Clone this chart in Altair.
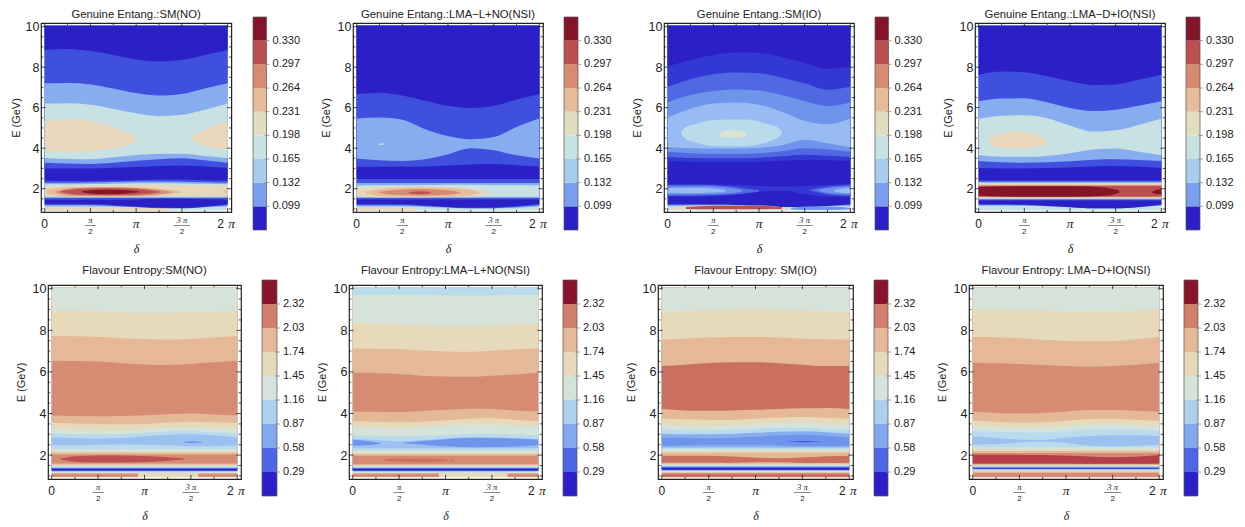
import altair as alt
import pandas as pd

KNOTS = [0, .25, .5, .75, 1, 1.25, 1.5, 1.75, 2]
E_LOW, E_HIGH = 0.93, 10.05
X_DOMAIN = [-0.04, 2.04]
Y_DOMAIN = [0.85, 10.18]

COL = {'D': '#2B20C5', 'C': '#3337D3', 'B': '#3E50DD', 'B2': '#5069E2', 'M2': '#6F94EB', 'M': '#87ADF0',
       'N': '#9CC0F0', 'M3': '#97BBF2', 'LB': '#BADBEC', 'W': '#DDE3CF', 'L': '#C8E2E3', 'T': '#E8D7BA',
       'P': '#E6BC9A', 'S': '#D68B70', 'R': '#BC5050', 'K': '#861428', 'A': '#D6E3DB', 'T2': '#E6DABA',
       'P2': '#E5B898', 'S2': '#D68C72', 'S3': '#C97060', 'R2': '#B43F48'}

BAR_G = ['#2B20C8', '#7A9FEF', '#A8CCEE', '#C8E2E2', '#E3DDBF', '#E6BC9A', '#D68B70', '#BC5050', '#861428']
BAR_F = ['#2B20C8', '#4D66E5', '#82A8F0', '#ADD0EC', '#D6E3DB', '#E6DABA', '#E5B898', '#D27F6C', '#87142B']
LEVELS_G = [0.099, 0.132, 0.165, 0.198, 0.231, 0.264, 0.297, 0.330]
LEVELS_F = [0.29, 0.58, 0.87, 1.16, 1.45, 1.74, 2.03, 2.32]

TITLES_G = ['Genuine Entang.:SM(NO)', 'Genuine Entang.:LMA\u2212L+NO(NSI)', 'Genuine Entang.:SM(IO)', 'Genuine Entang.:LMA\u2212D+IO(NSI)']
TITLES_F = ['Flavour Entropy:SM(NO)', 'Flavour Entropy:LMA\u2212L+NO(NSI)', 'Flavour Entropy: SM(IO)', 'Flavour Entropy: LMA\u2212D+IO(NSI)']

# each curve: colour of the band above it, lower edge of that band at KNOTS (or one value)
G1_CURVES = [
    ('L', E_LOW), ('M', [1.12, 1.12, 1.12, 1.12, 1.08, 1.05, 1.05, 1.08, 1.12]),
    ('B', [1.19, 1.19, 1.19, 1.15, 1.1, 1.03, 1.03, 1.1, 1.18]),
    ('D', [1.26, 1.26, 1.24, 1.2, 1.12, 1.07, 1.05, 1.12, 1.25]),
    ('B', [1.46, 1.46, 1.46, 1.46, 1.47, 1.5, 1.5, 1.48, 1.46]), ('M', 1.54), ('L', 1.6), ('T', 1.63),
    ('L', [2.14, 2.14, 2.15, 2.17, 2.2, 2.2, 2.18, 2.16, 2.14]), ('M', [2.22, 2.22, 2.23, 2.25, 2.27, 2.27, 2.26, 2.24, 2.22]),
    ('B', [2.3, 2.3, 2.31, 2.33, 2.35, 2.35, 2.34, 2.32, 2.3]), ('D', [2.4, 2.38, 2.38, 2.4, 2.42, 2.45, 2.45, 2.42, 2.4]),
    ('B', [3.0, 3.0, 3.0, 3.03, 3.07, 3.12, 3.15, 3.1, 3.02]), ('M', [3.28, 3.24, 3.22, 3.28, 3.38, 3.45, 3.5, 3.4, 3.28]),
    ('L', [3.52, 3.47, 3.46, 3.55, 3.67, 3.73, 3.72, 3.62, 3.52]), ('M', [6.2, 6.22, 6.15, 5.95, 5.72, 5.58, 5.65, 5.9, 6.2]),
    ('B', [7.2, 7.22, 7.15, 6.95, 6.72, 6.6, 6.68, 6.95, 7.2]), ('D', [8.85, 8.9, 8.8, 8.6, 8.38, 8.28, 8.35, 8.6, 8.85]),
]
G1_ISLANDS = [
    ('T', [0, .25, .5, .75, .9, .98, 1.0], [3.85, 3.82, 3.85, 3.98, 4.15, 4.3, 4.4], [5.32, 5.42, 5.35, 5.05, 4.75, 4.55, 4.45]),
    ('T', [1.6, 1.62, 1.7, 1.85, 2], [4.45, 4.35, 4.2, 4.0, 3.88], [4.5, 4.6, 4.8, 5.12, 5.32]),
    ('P', [.02, .2, .5, .8, 1.1, 1.35, 1.5], [1.75, 1.62, 1.6, 1.6, 1.63, 1.72, 1.82], [1.95, 2.06, 2.1, 2.1, 2.05, 1.95, 1.86]),
    ('S', [.12, .3, .6, .9, 1.15, 1.4], [1.82, 1.66, 1.64, 1.64, 1.68, 1.82], [1.86, 2.02, 2.06, 2.05, 1.98, 1.84]),
    ('R', [.18, .4, .7, 1.0, 1.26], [1.83, 1.7, 1.68, 1.7, 1.82], [1.87, 2.0, 2.03, 2.0, 1.85]),
    ('K', [.41, .6, .8, 1.03], [1.83, 1.74, 1.74, 1.82], [1.87, 1.95, 1.95, 1.86]),
    ('P', [1.96, 1.98, 2], [1.85, 1.78, 1.76], [1.87, 1.93, 1.95]),
    ('T', [0, .5, 1, 1.4], [E_LOW, E_LOW, E_LOW, E_LOW], [1.1, 1.1, 1.07, .97]),
]
G2_CURVES = [
    ('L', E_LOW), ('M', [1.12, 1.12, 1.12, 1.1, 1.06, 1.03, 1.04, 1.06, 1.12]), ('B', [1.18, 1.18, 1.18, 1.14, 1.08, 1.03, 1.04, 1.1, 1.18]),
    ('D', [1.25, 1.25, 1.23, 1.18, 1.1, 1.07, 1.08, 1.15, 1.25]), ('B', 1.47), ('M', 1.54), ('L', 1.6),
    ('M', [2.16, 2.17, 2.17, 2.18, 2.2, 2.2, 2.18, 2.17, 2.16]), ('B', 2.28), ('D', 2.48),
    ('B', [3.08, 3.08, 3.08, 3.1, 3.14, 3.2, 3.22, 3.16, 3.08]), ('M', [3.49, 3.4, 3.37, 3.45, 3.7, 4.0, 3.9, 3.65, 3.49]),
    ('B', [5.47, 5.51, 5.4, 4.94, 4.6, 4.44, 4.55, 5.05, 5.47]), ('D', [6.68, 6.74, 6.6, 6.34, 6.09, 5.98, 6.09, 6.4, 6.68]),
]
G2_ISLANDS = [
    ('T', [0, .25, .5, .8, 1.1, 1.35, 1.45], [1.62, 1.58, 1.58, 1.58, 1.6, 1.68, 1.78], [2.02, 2.08, 2.1, 2.1, 2.06, 1.92, 1.82]),
    ('P', [.1, .3, .6, .95, 1.2, 1.35], [1.78, 1.63, 1.6, 1.6, 1.65, 1.78], [1.86, 2.0, 2.06, 2.05, 1.98, 1.82]),
    ('S', [.24, .4, .7, 1.0, 1.13], [1.8, 1.7, 1.66, 1.7, 1.78], [1.84, 1.92, 1.98, 1.92, 1.82]),
    ('R', [.57, .7, .81], [1.78, 1.73, 1.78], [1.82, 1.87, 1.82]),
    ('L', [.24, .27, .31], [4.2, 4.16, 4.2], [4.22, 4.25, 4.22]),
    ('T', [0, .3, .65], [E_LOW, E_LOW, E_LOW], [1.08, 1.08, 1.0]),
]
G3_CURVES = [
    ('L', E_LOW), ('M3', 1.14), ('M2', 1.17), ('D', [1.22, 1.22, 1.22, 1.2, 1.12, 1.1, 1.1, 1.15, 1.22]),
    ('C', [1.6, 1.6, 1.62, 1.7, 1.85, 1.9, 1.75, 1.6, 1.6]), ('D', [2.25, 2.25, 2.22, 2.18, 2.13, 2.1, 2.13, 2.18, 2.25]),
    ('C', [3.37, 3.33, 3.3, 3.3, 3.33, 3.38, 3.42, 3.4, 3.37]), ('B2', [3.57, 3.52, 3.5, 3.5, 3.53, 3.6, 3.68, 3.63, 3.57]),
    ('M2', [3.82, 3.75, 3.72, 3.72, 3.75, 3.85, 4.0, 3.95, 3.82]), ('M3', [4.05, 4.0, 3.98, 3.98, 4.02, 4.15, 4.42, 4.25, 4.05]),
    ('M2', [5.51, 5.95, 6.2, 6.26, 6.15, 5.8, 5.35, 5.18, 5.48]), ('B2', [6.26, 6.62, 6.82, 6.9, 6.85, 6.62, 6.32, 6.08, 6.26]),
    ('C', [7.03, 7.4, 7.65, 7.74, 7.7, 7.48, 7.2, 6.88, 7.03]), ('D', [8.03, 8.35, 8.6, 8.72, 8.7, 8.5, 8.2, 7.92, 8.03]),
]
G3_ISLANDS = [
    ('LB', [.15, .18, .3, .55, .85, 1.1, 1.22, 1.25], [4.72, 4.52, 4.28, 4.1, 4.1, 4.32, 4.55, 4.72], [4.78, 4.98, 5.2, 5.4, 5.42, 5.18, 4.98, 4.8]),
    ('W', [.57, .6, .7, .82, .86], [4.62, 4.55, 4.52, 4.55, 4.65], [4.72, 4.82, 4.88, 4.82, 4.72]),
    ('B2', [0, .4, .8, 1.0], [1.65, 1.67, 1.75, 1.85], [2.18, 2.18, 2.05, 1.92]),
    ('M2', [0, .4, .7, .82], [1.72, 1.73, 1.78, 1.88], [2.12, 2.12, 2.03, 1.92]),
    ('M3', [0, .3, .55, .64], [1.8, 1.78, 1.82, 1.88], [2.03, 2.05, 1.98, 1.92]),
    ('B2', [1.55, 1.75, 2], [1.92, 1.72, 1.65], [1.95, 2.1, 2.18]),
    ('M2', [1.64, 1.8, 2], [1.9, 1.76, 1.72], [1.94, 2.06, 2.12]),
    ('M3', [1.82, 1.9, 2], [1.88, 1.8, 1.78], [1.92, 2.0, 2.05]),
    ('T', [.05, .3, 1.0, 1.3], [.98, .98, .98, .98], [1.05, 1.17, 1.17, 1.05]),
    ('R', [.2, .5, 1, 1.25], [1.0, .99, .99, 1.0], [1.1, 1.16, 1.16, 1.1]),
    ('M2', [1.35, 1.5, 1.8, 2], [.98, .95, .95, .98], [1.06, 1.12, 1.12, 1.06]),
]
G4_CURVES = [
    ('L', E_LOW), ('M', 1.16), ('B', [1.2, 1.2, 1.18, 1.14, 1.08, 1.03, 1.03, 1.08, 1.2]), ('D', [1.25, 1.25, 1.22, 1.16, 1.1, 1.03, 1.03, 1.1, 1.22]),
    ('B', 1.42), ('M', 1.47), ('L', 1.5), ('T', 1.54), ('P', 1.57), ('S', 1.59), ('R', 1.62),
    ('S', 2.13), ('P', 2.17), ('T', 2.2), ('L', 2.26), ('M', 2.3), ('B', 2.34), ('D', 2.42),
    ('B', [3.02, 3.0, 3.0, 3.02, 3.05, 3.1, 3.12, 3.08, 3.02]), ('M', [3.37, 3.3, 3.28, 3.3, 3.35, 3.43, 3.45, 3.42, 3.37]),
    ('L', [3.65, 3.58, 3.57, 3.62, 3.75, 3.93, 3.98, 3.82, 3.65]), ('M', [5.45, 5.6, 5.63, 5.48, 5.12, 4.82, 4.88, 5.15, 5.45]),
    ('B', [6.32, 6.45, 6.47, 6.27, 5.98, 5.83, 5.9, 6.1, 6.32]), ('D', [7.62, 7.78, 7.75, 7.55, 7.3, 7.12, 7.15, 7.38, 7.62]),
]
G4_ISLANDS = [
    ('K', [0, .4, 1.0, 1.4, 1.54], [1.65, 1.6, 1.6, 1.65, 1.8], [2.08, 2.12, 2.12, 2.05, 1.9]),
    ('K', [1.9, 1.95, 2], [1.8, 1.74, 1.72], [1.86, 1.95, 1.97]),
    ('T', [.11, .14, .25, .45, .68, .76], [4.3, 4.15, 4.02, 3.98, 4.1, 4.3], [4.38, 4.55, 4.72, 4.82, 4.6, 4.36]),
]
BOTTOM_S2_F1 = [('S2', [0, .5, .93], [.95, .95, .95], [1.12, 1.12, 1.12]), ('S2', [1.58, 1.8, 2], [.95, .95, .95], [1.12, 1.12, 1.12])]
BOTTOM_S2_F2 = [('S2', [0, .5, .93], [.95, .95, .95], [1.12, 1.12, 1.12]), ('S2', [1.67, 1.85, 2], [.95, .95, .95], [1.12, 1.12, 1.12])]
F1_CURVES = [
    ('T2', E_LOW), ('A', 1.14), ('LB', 1.18), ('N', 1.21), ('B', 1.24), ('D', 1.28), ('B', 1.33), ('N', 1.37), ('LB', 1.4), ('A', 1.44), ('T2', 1.48), ('P2', 1.54), ('S2', 1.6),
    ('P2', 2.03), ('T2', 2.12), ('A', 2.2), ('LB', 2.28),
    ('N', [2.47, 2.47, 2.5, 2.52, 2.5, 2.47, 2.42, 2.43, 2.47]), ('LB', [2.85, 2.82, 2.8, 2.82, 2.9, 2.98, 3.0, 2.95, 2.85]),
    ('A', [3.05, 3.02, 3.0, 3.02, 3.08, 3.13, 3.15, 3.1, 3.05]), ('T2', [3.25, 3.22, 3.2, 3.2, 3.25, 3.3, 3.32, 3.3, 3.25]),
    ('P2', [3.55, 3.52, 3.5, 3.48, 3.5, 3.57, 3.6, 3.58, 3.55]), ('S2', [3.9, 3.88, 3.87, 3.88, 3.92, 3.97, 4.0, 3.95, 3.9]),
    ('P2', [6.54, 6.52, 6.5, 6.42, 6.36, 6.33, 6.38, 6.46, 6.54]), ('T2', [7.73, 7.72, 7.68, 7.62, 7.58, 7.55, 7.58, 7.65, 7.73]),
    ('A', [8.98, 8.95, 8.93, 8.88, 8.85, 8.85, 8.87, 8.92, 8.98]),
]
F1_ISLANDS = [
    ('R', [.09, .3, .7, 1.1, 1.43], [1.8, 1.66, 1.64, 1.68, 1.8], [1.84, 1.96, 1.98, 1.93, 1.84]),
    ('M2', [1.42, 1.52, 1.62], [2.6, 2.57, 2.6], [2.63, 2.66, 2.63]),
] + BOTTOM_S2_F1
F2_CURVES = [
    ('T2', E_LOW), ('A', 1.14), ('LB', 1.18), ('N', 1.21), ('B', 1.24), ('D', 1.28), ('B', 1.33), ('N', 1.37), ('LB', 1.4), ('A', 1.44), ('T2', 1.48), ('P2', 1.52), ('S2', 1.56),
    ('P2', 1.97), ('T2', 2.05), ('A', 2.12), ('LB', 2.22), ('N', 2.33),
    ('LB', [2.76, 2.72, 2.65, 2.72, 2.8, 2.85, 2.85, 2.82, 2.76]), ('A', [2.95, 2.92, 2.9, 2.92, 2.98, 3.02, 3.03, 3.0, 2.95]),
    ('T2', [3.37, 3.33, 3.3, 3.35, 3.42, 3.47, 3.47, 3.42, 3.37]), ('P2', [3.63, 3.6, 3.58, 3.6, 3.68, 3.75, 3.77, 3.7, 3.63]),
    ('S2', [4.1, 4.08, 4.07, 4.12, 4.18, 4.23, 4.22, 4.15, 4.1]), ('P2', [5.96, 5.95, 5.9, 5.82, 5.78, 5.77, 5.82, 5.88, 5.96]),
    ('T2', [7.14, 7.12, 7.1, 7.03, 6.98, 6.97, 7.02, 7.08, 7.14]), ('A', [8.35, 8.33, 8.3, 8.25, 8.2, 8.2, 8.23, 8.3, 8.35]),
    ('LB', [9.7, 9.72, 9.72, 9.7, 9.68, 9.68, 9.68, 9.7, 9.7]),
]
F2_ISLANDS = [
    ('M2', [0, .15, .3], [2.45, 2.47, 2.55], [2.75, 2.68, 2.58]),
    ('M2', [.55, .9, 1.3, 1.7, 2], [2.57, 2.45, 2.38, 2.4, 2.47], [2.6, 2.72, 2.83, 2.8, 2.75]),
    ('S3', [.33, .5, .8, 1.03], [1.75, 1.68, 1.66, 1.73], [1.79, 1.84, 1.84, 1.78]),
    ('S3', [1.05, 1.07, 1.09], [1.72, 1.69, 1.72], [1.74, 1.77, 1.74]),
] + BOTTOM_S2_F2
F3_CURVES = [
    ('S3', E_LOW), ('P2', 1.12), ('T2', 1.16), ('A', 1.2), ('LB', 1.23), ('M2', 1.26), ('D', 1.3), ('B', 1.38), ('M', 1.42), ('LB', 1.46), ('A', 1.5), ('T2', 1.53), ('P2', 1.58),
    ('S3', [1.63, 1.63, 1.63, 1.63, 1.65, 1.65, 1.62, 1.62, 1.63]), ('P2', [1.97, 1.97, 1.97, 1.93, 1.88, 1.85, 1.88, 1.95, 1.97]),
    ('T2', 2.12), ('A', 2.2), ('LB', 2.28), ('M', 2.37),
    ('M2', [2.45, 2.47, 2.5, 2.5, 2.5, 2.47, 2.44, 2.44, 2.45]), ('M', [2.85, 2.83, 2.8, 2.83, 2.88, 2.95, 2.98, 2.93, 2.85]),
    ('LB', [3.03, 3.0, 3.0, 3.02, 3.07, 3.12, 3.15, 3.1, 3.03]), ('A', [3.22, 3.2, 3.2, 3.22, 3.27, 3.32, 3.33, 3.27, 3.22]),
    ('T2', [3.47, 3.42, 3.42, 3.45, 3.5, 3.55, 3.55, 3.5, 3.47]), ('P2', [3.76, 3.72, 3.7, 3.7, 3.75, 3.8, 3.83, 3.8, 3.76]),
    ('S3', [4.22, 4.15, 4.13, 4.15, 4.18, 4.22, 4.25, 4.27, 4.22]), ('P2', [6.28, 6.35, 6.43, 6.47, 6.47, 6.42, 6.35, 6.28, 6.28]),
    ('T2', [7.55, 7.6, 7.65, 7.68, 7.68, 7.65, 7.6, 7.57, 7.55]), ('A', [8.88, 8.92, 8.97, 9.0, 9.02, 9.0, 8.97, 8.9, 8.88]),
]
F3_ISLANDS = [
    ('B', [1.35, 1.52, 1.7], [2.64, 2.62, 2.64], [2.65, 2.68, 2.65]),
]
F4_CURVES = [
    ('S2', E_LOW), ('P2', 1.14), ('T2', 1.2), ('A', 1.25), ('N', 1.28), ('B', 1.33), ('N', 1.4), ('A', 1.45), ('T2', 1.49), ('P2', 1.53), ('S2', 1.56),
    ('R2', [1.6, 1.6, 1.6, 1.6, 1.6, 1.58, 1.58, 1.58, 1.6]), ('S2', [2.02, 2.02, 2.02, 2.0, 1.98, 1.93, 1.9, 1.92, 2.0]),
    ('P2', 2.1), ('T2', 2.2), ('A', 2.28), ('LB', 2.38),
    ('N', [2.5, 2.53, 2.6, 2.65, 2.58, 2.45, 2.42, 2.45, 2.5]), ('LB', [2.9, 2.82, 2.75, 2.73, 2.83, 2.92, 2.95, 2.95, 2.9]),
    ('A', [3.16, 3.12, 3.1, 3.1, 3.15, 3.24, 3.27, 3.22, 3.16]), ('T2', [3.4, 3.36, 3.33, 3.33, 3.4, 3.47, 3.5, 3.45, 3.4]),
    ('P2', [3.65, 3.6, 3.57, 3.58, 3.65, 3.73, 3.75, 3.7, 3.65]), ('S2', [4.08, 4.03, 4.0, 4.03, 4.1, 4.17, 4.17, 4.13, 4.08]),
    ('P2', [6.44, 6.42, 6.38, 6.33, 6.28, 6.25, 6.28, 6.35, 6.44]), ('T2', [7.68, 7.67, 7.62, 7.55, 7.5, 7.47, 7.48, 7.57, 7.68]),
    ('A', [9.0, 9.0, 8.98, 8.95, 8.92, 8.9, 8.9, 8.95, 9.0]),
]
F4_ISLANDS = []

PANELS_G = [(G1_CURVES, G1_ISLANDS), (G2_CURVES, G2_ISLANDS), (G3_CURVES, G3_ISLANDS), (G4_CURVES, G4_ISLANDS)]
PANELS_F = [(F1_CURVES, F1_ISLANDS), (F2_CURVES, F2_ISLANDS), (F3_CURVES, F3_ISLANDS), (F4_CURVES, F4_ISLANDS)]

Y_MAJOR = [2, 4, 6, 8, 10]
Y_MINOR = [1, 1.5, 2.5, 3, 3.5, 4.5, 5, 5.5, 6.5, 7, 7.5, 8.5, 9, 9.5]
X_MAJOR = [0, .5, 1, 1.5, 2]
X_MINOR = [.25, .75, 1.25, 1.75]
FRAC_BARS = [(.44, .56), (1.41, 1.59)]

FRAME = '#222222'
FONT = 'Liberation Sans'
SERIF = 'Liberation Serif'
XS = alt.Scale(domain=X_DOMAIN, nice=False, zero=False)
YS = alt.Scale(domain=Y_DOMAIN, nice=False, zero=False)


def bands_frame(curves, islands):
    rows = []
    b = 0
    for colour, edge in curves:
        vals = edge if isinstance(edge, list) else [edge] * len(KNOTS)
        for x, y in zip(KNOTS, vals):
            rows.append({'b': b, 'x': x, 'y': y, 'y2': E_HIGH, 'c': COL[colour]})
        b += 1
    for colour, xs, lo, hi in islands:
        for x, y, y2 in zip(xs, lo, hi):
            rows.append({'b': b, 'x': x, 'y': y, 'y2': y2, 'c': COL[colour]})
        b += 1
    return pd.DataFrame(rows)


def ticks_frame():
    rows = []
    for vals, ln_x in ((Y_MAJOR, .05), (Y_MINOR, .025)):
        for v in vals:
            rows.append({'x': X_DOMAIN[0], 'x2': X_DOMAIN[0] + ln_x, 'y': v, 'y2': v})
            rows.append({'x': X_DOMAIN[1] - ln_x, 'x2': X_DOMAIN[1], 'y': v, 'y2': v})
    for vals, ln_y in ((X_MAJOR, .2), (X_MINOR, .1)):
        for v in vals:
            rows.append({'x': v, 'x2': v, 'y': Y_DOMAIN[0], 'y2': Y_DOMAIN[0] + ln_y})
            rows.append({'x': v, 'x2': v, 'y': Y_DOMAIN[1] - ln_y, 'y2': Y_DOMAIN[1]})
    return pd.DataFrame(rows)


def tick_text(items, dy, size, font=FONT, style='normal', dx=0, color='#222222'):
    df = pd.DataFrame({'x': [i[0] for i in items], 't': [i[1] for i in items]})
    return alt.Chart(df).mark_text(dy=dy, dx=dx, fontSize=size, font=font, fontStyle=style, color=color).encode(
        x=alt.X('x:Q', scale=XS), y=alt.datum(Y_DOMAIN[0], scale=YS), text='t:N')


def panel(title, data, w, h, title_offset, ytitle_pad):
    curves, islands = data
    area = alt.Chart(bands_frame(curves, islands)).mark_area(interpolate='monotone', opacity=1).encode(
        x=alt.X('x:Q', scale=XS, axis=alt.Axis(values=X_MAJOR, labels=False, ticks=False, domain=False, grid=False,
                                               title='\u03b4', titleFont=SERIF, titleFontStyle='italic', titleFontWeight='normal',
                                               titleFontSize=12, titleColor='#222222', titlePadding=31)),
        y=alt.Y('y:Q', scale=YS, axis=alt.Axis(values=Y_MAJOR, ticks=False, domain=False, grid=False, labelFont=FONT,
                                               labelFontSize=12.5, labelColor='#222222', labelPadding=2, title='E (GeV)',
                                               titleFont=FONT, titleFontSize=11, titleFontWeight='normal', titleColor='#222222',
                                               titlePadding=ytitle_pad)),
        y2='y2:Q', color=alt.Color('c:N', scale=None), detail='b:N')
    ticks = alt.Chart(ticks_frame()).mark_rule(color=FRAME, strokeWidth=0.8).encode(
        x=alt.X('x:Q', scale=XS), x2='x2:Q', y=alt.Y('y:Q', scale=YS), y2='y2:Q')
    big2 = tick_text([(2, '2')], 12, 12, dx=-7)
    big_pi = tick_text([(1, '\u03c0')], 12, 13.5, SERIF, 'italic')
    big_pi2 = tick_text([(2, '\u03c0')], 12, 13.5, SERIF, 'italic', dx=4)
    zero = tick_text([(0, '0')], 12, 12)
    num = tick_text([(.5, '\u03c0'), (1.5, '3 \u03c0')], 8, 8.5, SERIF, 'italic')
    bars = alt.Chart(pd.DataFrame({'a': [b[0] for b in FRAC_BARS], 'b': [b[1] for b in FRAC_BARS]})).mark_rule(
        color='#555555', strokeWidth=0.7, yOffset=13.5).encode(
        x=alt.X('a:Q', scale=XS), x2='b:Q', y=alt.datum(Y_DOMAIN[0], scale=YS))
    den = tick_text([(.5, '2'), (1.5, '2')], 20, 8)
    return alt.layer(area, ticks, zero, big2, big_pi, big_pi2, num, bars, den).properties(
        width=w, height=h, view=alt.ViewConfig(stroke=FRAME, strokeWidth=1.2),
        title=alt.TitleParams(title, font=FONT, fontSize=11.3, fontWeight='normal', color='#222222', anchor='middle', offset=title_offset))


def colorbar(colors, levels, w, h, rng, fmt):
    step = levels[1] - levels[0]
    lows = [levels[0] - step + i * step for i in range(len(colors))]
    df = pd.DataFrame({'lo': lows, 'hi': [v + step for v in lows], 'c': colors})
    ys = alt.Scale(domain=[lows[0], lows[-1] + step], range=rng, nice=False, zero=False)
    rects = alt.Chart(df).mark_rect().encode(
        x=alt.value(0), x2=alt.value(w),
        y=alt.Y('lo:Q', scale=ys, axis=None),
        y2='hi:Q', color=alt.Color('c:N', scale=None))
    outline = alt.Chart(pd.DataFrame({'lo': [lows[0]], 'hi': [lows[-1] + step]})).mark_rect(
        fill=None, stroke='#555555', strokeWidth=0.7).encode(
        x=alt.value(0), x2=alt.value(w), y=alt.Y('lo:Q', scale=ys), y2='hi:Q')
    lv = pd.DataFrame({'v': levels, 't': [format(v, fmt) for v in levels]})
    tks = alt.Chart(lv).mark_rule(color='#888888', strokeWidth=0.8).encode(
        x=alt.value(w - 2), x2=alt.value(w + 3), y=alt.Y('v:Q', scale=ys))
    labels = alt.Chart(lv).mark_text(align='left', fontSize=11, font=FONT, color='#222222').encode(
        x=alt.value(w + 6), y=alt.Y('v:Q', scale=ys), text='t:N')
    return alt.layer(rects, outline, tks, labels).properties(width=w, height=h, view=alt.ViewConfig(stroke=None))


def spacer(w, h):
    return alt.Chart(pd.DataFrame({'a': [0]})).mark_point(opacity=0, size=1).encode(x=alt.value(w / 2), y=alt.value(h / 2)).properties(
        width=w, height=h, view=alt.ViewConfig(stroke=None))


def row(titles, panels, colors, levels, fmt, lefts, rights, bar_l, bar_r, h, rng, title_offset, pads):
    views = []
    prev = 8
    for i in range(4):
        views.append(spacer(lefts[i] - prev, h))
        views.append(panel(titles[i], panels[i], rights[i] - lefts[i], h, title_offset, pads[i]))
        views.append(spacer(bar_l[i] - rights[i], h))
        views.append(colorbar(colors, levels, bar_r[i] - bar_l[i], h, rng, fmt))
        prev = bar_r[i]
    return alt.hconcat(*views, spacing=0, bounds='flush')


row1 = row(TITLES_G, PANELS_G, BAR_G, LEVELS_G, '.3f', [40.7, 351, 662, 972], [231, 541, 852, 1162],
           [252, 562, 873, 1183], [265.5, 576, 886.5, 1197], 189, [207, -6], 0, [4, 6, 6, 6])
row2 = row(TITLES_F, PANELS_F, BAR_F, LEVELS_F, '.2f', [48, 349, 658, 969], [241, 542, 853, 1163],
           [262, 563, 874, 1184], [277, 577, 888, 1198], 194, [211, -5], 6.5, [6, 6, 6, 6])

chart = alt.vconcat(row1, row2, spacing=9).properties(padding=0, background='white')
chart.save("out.html", embed_options={"renderer": "svg", "actions": False})
